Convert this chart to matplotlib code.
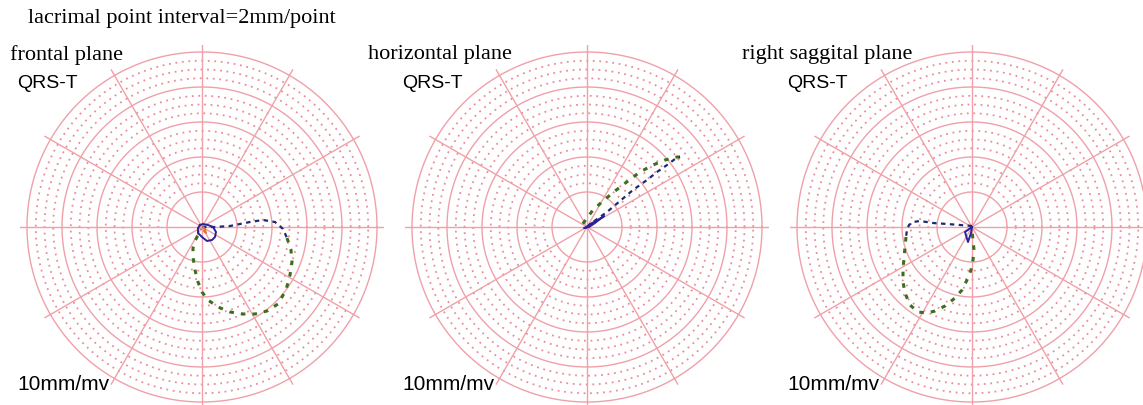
import numpy as np
import matplotlib
matplotlib.use("Agg")
import matplotlib.pyplot as plt

# ---- data (units: 1 grid ring = 1 unit; x right, y up) ----
UNIT = 35.0
fr_center = (202, 227)
fr_qrs_x = [202, 215, 230, 250, 263, 275, 283, 287]
fr_qrs_y = [227, 227, 226, 222, 220, 222, 229, 238]
fr_t_x = [287, 291, 292, 290, 286, 278, 267, 255, 243, 230, 218, 208, 202, 198, 195, 193, 193, 195, 198, 201]
fr_t_y = [238, 250, 262, 275, 290, 304, 311, 314, 314, 312, 307, 300, 292, 282, 270, 257, 248, 241, 235, 229]
fr_loop_x = [200, 203, 208, 213, 216, 215, 212, 207, 202, 198, 198, 200]
fr_loop_y = [225, 224, 225, 227, 232, 237, 240, 241, 237, 233, 228, 225]
fr_st_x = [203, 205, 206, 204]
fr_st_y = [227, 229, 233, 231]

ho_center = (587, 227)
ho_qrs_x = [587, 593, 607, 620, 633, 647, 657, 667, 675, 680]
ho_qrs_y = [227, 222, 212, 201, 190, 180, 172, 165, 159, 157]
ho_t_x = [680, 677, 665, 653, 640, 628, 615, 603, 593, 587, 582, 587]
ho_t_y = [157, 157, 160, 165, 172, 181, 191, 201, 210, 218, 225, 227]
ho_loop_x = [587, 590, 596, 601, 604, 600, 595, 589, 584, 587]
ho_loop_y = [227, 224, 221, 218, 216, 219, 223, 227, 228, 227]

sa_center = (972, 227)
sa_qrs_x = [972, 960, 947, 933, 920, 913, 909, 907, 906]
sa_qrs_y = [226, 225, 224, 223, 221, 222, 225, 230, 237]
sa_t_x = [906, 905, 904, 903, 903, 905, 910, 918, 927, 935, 945, 955, 962, 967, 971, 973, 974, 973, 972]
sa_t_y = [237, 247, 258, 270, 282, 293, 305, 312, 313, 311, 306, 298, 290, 280, 270, 260, 250, 240, 230]
sa_loop_x = [972, 965, 968, 971, 972]
sa_loop_y = [227, 232, 242, 233, 227]

titles = ["frontal plane", "horizontal plane", "right saggital plane"]
header = "lacrimal point interval=2mm/point"

W, H = 1143, 405
RPX = 182.0
RMAX = RPX / UNIT

fig = plt.figure(figsize=(W / 100, H / 100), dpi=100)

SOLID = "#f0a0a8"
DOT = "#ec8c96"
NAVY = "#1c2a6e"
GREEN = "#3d6e1e"
BLUE = "#2a2296"
ORANGE = "#e07830"


def to_polar(xs, ys, c):
    x = (np.array(xs, float) - c[0]) / UNIT
    y = -(np.array(ys, float) - c[1]) / UNIT
    return np.arctan2(y, x), np.hypot(x, y)


def make_ax(c):
    left = (c[0] - RPX) / W
    bottom = (H - c[1] - RPX) / H
    ax = fig.add_axes([left, bottom, 2 * RPX / W, 2 * RPX / H], projection="polar")
    ax.set_ylim(0, RMAX)
    ax.grid(False)
    ax.set_xticks([])
    ax.set_yticks([])
    ax.spines["polar"].set_visible(False)
    ax.patch.set_alpha(0)
    th = np.linspace(0, 2 * np.pi, 400)
    for r in np.arange(1.25, RMAX + 0.01, 0.25):
        if abs(r - round(r)) < 1e-6:
            continue
        ax.plot(th, np.full_like(th, r), color=DOT, lw=1.3, ls=(0, (1, 2.6)), zorder=1)
    for r in [1, 2, 3, 4, 5]:
        ax.plot(th, np.full_like(th, r), color=SOLID, lw=1.0, zorder=1)
    for a in range(0, 360, 30):
        ax.plot([np.deg2rad(a)] * 2, [0, RMAX], color=SOLID, lw=1.0, zorder=1)
    return ax


def draw(ax, c, qx, qy, tx, ty, lx, ly):
    t, r = to_polar(tx, ty, c)
    ax.plot(t, r, color=GREEN, lw=2.2, ls=(0, (1.5, 2.3)), zorder=3)
    t, r = to_polar(qx, qy, c)
    ax.plot(t, r, color=NAVY, lw=1.6, ls=(0, (2.0, 2.0)), zorder=3)
    t, r = to_polar(lx, ly, c)
    ax.plot(t, r, color=BLUE, lw=1.4, zorder=4)


ax1 = make_ax(fr_center)
draw(ax1, fr_center, fr_qrs_x, fr_qrs_y, fr_t_x, fr_t_y, fr_loop_x, fr_loop_y)
t, r = to_polar(fr_st_x, fr_st_y, fr_center)
ax1.plot(t, r, color=ORANGE, lw=1.4, zorder=5)

ax2 = make_ax(ho_center)
draw(ax2, ho_center, ho_qrs_x, ho_qrs_y, ho_t_x, ho_t_y, ho_loop_x, ho_loop_y)

ax3 = make_ax(sa_center)
draw(ax3, sa_center, sa_qrs_x, sa_qrs_y, sa_t_x, sa_t_y, sa_loop_x, sa_loop_y)

serif = "Liberation Serif"
sans = "Liberation Sans"
fig.text(28 / W, 1 - 19 / H, header, family=serif, fontsize=16, va="center", ha="left")
title_x = [10, 368, 742]
qrs_x = [17, 402, 787]
for tx, qx, tt in zip(title_x, qrs_x, titles):
    fig.text(tx / W, 1 - 55 / H, tt, family=serif, fontsize=16, va="center", ha="left")
    fig.text(qx / W, 1 - 84 / H, "QRS-T", family=sans, fontsize=14, va="center", ha="left")
    fig.text(qx / W, 1 - 384 / H, "10mm/mv", family=sans, fontsize=15, va="center", ha="left")

fig.savefig("out.png", dpi=100)
